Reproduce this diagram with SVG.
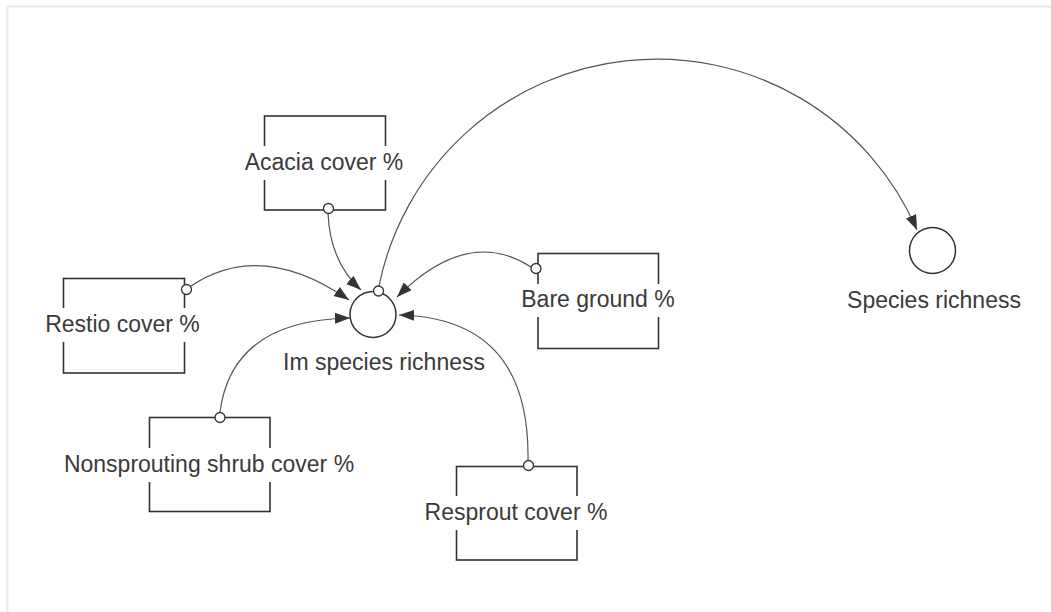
<svg xmlns="http://www.w3.org/2000/svg" width="1051" height="612" viewBox="0 0 1051 612">
  <style>
    .box { fill: none; stroke: #333; stroke-width: 1.6; }
    .aux { fill: #fff; stroke: #333; stroke-width: 1.5; }
    .dot { fill: #fff; stroke: #333; stroke-width: 1.3; }
    .lbl-bg { fill: #fff; }
    .lbl { font-family: "Liberation Sans", Arial, sans-serif; font-size: 23px; fill: #3a3a3a; text-anchor: middle; }
    .link { fill: none; stroke: #555; stroke-width: 1.2; }
  </style>
  <defs>
    <marker id="arrow" markerUnits="userSpaceOnUse" markerWidth="16" markerHeight="12" refX="15" refY="5.5" orient="auto">
      <path d="M0,0 L15,5.5 L0,11 z" fill="#333"/>
    </marker>
  </defs>

  <!-- canvas frame -->
  <rect x="0" y="0" width="1051" height="612" fill="#fff"/>
  <path d="M7.5,612 V6.5 H1051" fill="none" stroke="#eaeade" stroke-width="2"/>

  <!-- connectors -->
  <g id="connectors">
    <path class="link" d="M328,213 Q330,262 361,290" marker-end="url(#arrow)"/>
    <path class="link" d="M191,286 Q261,239 349,300" marker-end="url(#arrow)"/>
    <path class="link" d="M220,412 Q232,320 350,318" marker-end="url(#arrow)"/>
    <path class="link" d="M531,267 Q468,226 397,297" marker-end="url(#arrow)"/>
    <path class="link" d="M528,460 Q530,318 399,315" marker-end="url(#arrow)"/>
    <path class="link" d="M379,286 A283.5,283.5 0 0 1 917,230" marker-end="url(#arrow)"/>
  </g>

  <!-- level boxes -->
  <g id="acacia">
    <rect class="box" x="264.5" y="116" width="121" height="94"/>
    <rect class="lbl-bg" x="240" y="146" width="168" height="34"/>
    <text class="lbl" x="324" y="170">Acacia cover %</text>
    <circle class="dot" cx="328.5" cy="208.5" r="5"/>
  </g>

  <g id="restio">
    <rect class="box" x="63.5" y="278.5" width="121" height="94.5"/>
    <rect class="lbl-bg" x="42" y="308" width="162" height="34"/>
    <text class="lbl" x="122.5" y="332">Restio cover %</text>
    <circle class="dot" cx="186.5" cy="289.5" r="5"/>
  </g>

  <g id="bare-ground">
    <rect class="box" x="538" y="253.5" width="120.5" height="95"/>
    <rect class="lbl-bg" x="518" y="284" width="160" height="33"/>
    <text class="lbl" x="598" y="307">Bare ground %</text>
    <circle class="dot" cx="536" cy="268.5" r="5"/>
  </g>

  <g id="nonsprouting">
    <rect class="box" x="149.5" y="417.5" width="120.5" height="94"/>
    <rect class="lbl-bg" x="60" y="448" width="298" height="34"/>
    <text class="lbl" x="209" y="472">Nonsprouting shrub cover %</text>
    <circle class="dot" cx="220" cy="417.5" r="5"/>
  </g>

  <g id="resprout">
    <rect class="box" x="456.5" y="466.5" width="120.5" height="93.5"/>
    <rect class="lbl-bg" x="420" y="496" width="192" height="34"/>
    <text class="lbl" x="516" y="520">Resprout cover %</text>
    <circle class="dot" cx="528.5" cy="465.5" r="5"/>
  </g>

  <!-- auxiliary variables -->
  <g id="im-species-richness">
    <circle class="aux" cx="373" cy="314.5" r="23"/>
    <text class="lbl" x="384" y="370">Im species richness</text>
    <circle class="dot" cx="378.5" cy="291" r="5"/>
  </g>

  <g id="species-richness">
    <circle class="aux" cx="932.5" cy="250.5" r="23"/>
    <text class="lbl" x="934" y="308">Species richness</text>
  </g>
</svg>
